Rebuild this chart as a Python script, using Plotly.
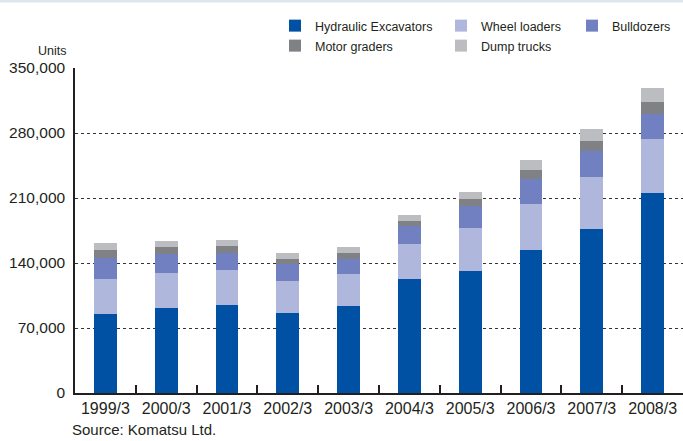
import plotly.graph_objects as go

years = ["1999/3", "2000/3", "2001/3", "2002/3", "2003/3",
         "2004/3", "2005/3", "2006/3", "2007/3", "2008/3"]
hydraulic_excavators = [85400, 91900, 95100, 86500, 94000, 123100, 131700, 154300, 177000, 215800]
wheel_loaders = [37700, 37700, 37700, 34500, 34500, 37700, 46300, 49700, 56000, 58200]
bulldozers = [22300, 20100, 18200, 17500, 16100, 18600, 23400, 26800, 28000, 26800]
motor_graders = [8900, 7900, 7500, 6100, 6400, 6100, 7900, 9700, 10900, 12900]
dump_trucks = [7600, 6400, 6600, 6400, 6500, 6500, 7500, 10800, 12900, 15100]

y_ticks = [0, 70000, 140000, 210000, 280000, 350000]

REG = "Liberation Sans, Arial, sans-serif"
TXT = "#231f20"

series = [
    ("Hydraulic Excavators", hydraulic_excavators, "#0050a4", "legend", 121),
    ("Wheel loaders", wheel_loaders, "#afb7dc", "legend", 86),
    ("Bulldozers", bulldozers, "#7080c0", "legend", None),
    ("Motor graders", motor_graders, "#808184", "legend2", 121),
    ("Dump trucks", dump_trucks, "#bcbdc1", "legend2", None),
]

fig = go.Figure()
for name, vals, color, lg, lw in series:
    kw = dict(legendwidth=lw) if lw else {}
    fig.add_trace(go.Bar(x=years, y=vals, name=name, marker_color=color,
                         marker_line_width=0, legend=lg, **kw))

legend_common = dict(orientation="h", xref="container", yref="container",
                     xanchor="left", yanchor="top", traceorder="normal",
                     font=dict(family=REG, size=12.5, color=TXT),
                     bgcolor="rgba(0,0,0,0)", borderwidth=0,
                     itemclick=False, itemdoubleclick=False)

fig.update_layout(
    width=683, height=441,
    margin=dict(l=75, r=0, t=68, b=48, autoexpand=False),
    paper_bgcolor="white", plot_bgcolor="white",
    barmode="stack", bargap=0.622,
    showlegend=True,
    legend=dict(x=275 / 683, y=1 - 11 / 441, **legend_common),
    legend2=dict(x=275 / 683, y=1 - 31 / 441, **legend_common),
    xaxis=dict(
        type="category", showgrid=False, showline=True, linecolor=TXT, linewidth=2,
        ticks="inside", tickson="boundaries", ticklen=8, tickwidth=1.5, tickcolor=TXT,
        tickfont=dict(family=REG, size=16, color=TXT), fixedrange=True,
    ),
    yaxis=dict(
        range=[0, 350000], tickvals=y_ticks, tickformat=",d",
        showgrid=True, gridcolor="#333333", griddash="dot", gridwidth=1,
        zeroline=False, showline=True, linecolor=TXT, linewidth=1.5,
        ticks="", ticklabelstandoff=5,
        tickfont=dict(family=REG, size=15.5, color=TXT), fixedrange=True,
    ),
    shapes=[dict(type="rect", xref="paper", yref="paper",
                 x0=-75 / 608, x1=1.0, y0=(393 - 2.5) / 325, y1=393 / 325,
                 fillcolor="#dce6f0", line_width=0, layer="above")],
    annotations=[
        dict(text="Units", xref="paper", yref="paper", x=(68 - 75) / 608,
             y=(393 - 51) / 325, xanchor="right", yanchor="middle", showarrow=False,
             font=dict(family=REG, size=12.5, color=TXT)),
        dict(text="Source: Komatsu Ltd.", xref="paper", yref="paper",
             x=(70 - 75) / 608, y=(393 - 429) / 325, xanchor="left", yanchor="middle",
             showarrow=False, font=dict(family=REG, size=15, color=TXT)),
    ],
)

fig.write_html("out.html", config={"displayModeBar": False},
               post_script="document.body.style.margin='0';document.body.style.padding='0';")
